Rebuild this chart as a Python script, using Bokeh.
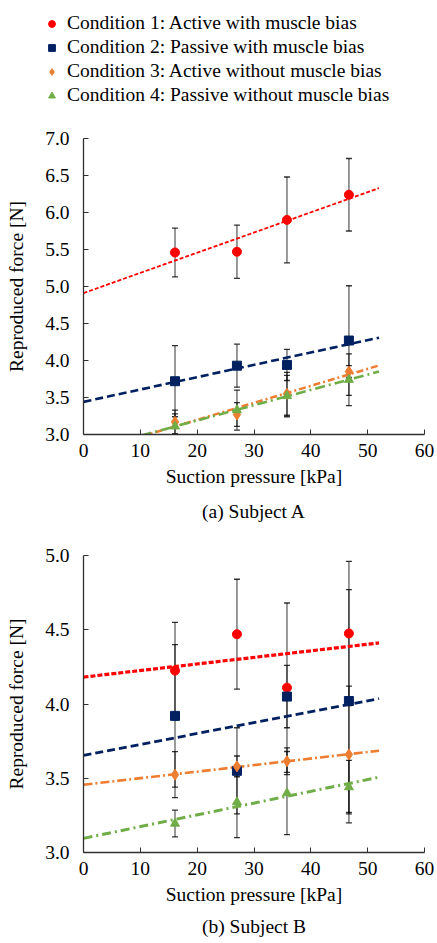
from bokeh.plotting import figure
from bokeh.models import (ColumnDataSource, Whisker, TeeHead, Legend, LegendItem,
                          SingleIntervalTicker, NumeralTickFormatter, Range1d, Title)
from bokeh.layouts import column
from bokeh.embed import file_html
from bokeh.resources import INLINE
import numpy as np

# ---------------- data ----------------
pressure = [16.1, 27.0, 35.8, 46.7]
conditions = ["Condition 1: Active with muscle bias",
              "Condition 2: Passive with muscle bias",
              "Condition 3: Active without muscle bias",
              "Condition 4: Passive without muscle bias"]

# Subject A: means and standard deviations
a_c1 = [5.46, 5.47, 5.90, 6.24]
a_c1_sd = [0.33, 0.36, 0.58, 0.49]
a_c2 = [3.72, 3.93, 3.94, 4.27]
a_c2_sd = [0.48, 0.29, 0.21, 0.74]
a_c3 = [3.17, 3.27, 3.55, 3.85]
a_c3_sd = [0.16, 0.16, 0.29, 0.08]
a_c4 = [3.11, 3.33, 3.52, 3.74]
a_c4_sd = [0.17, 0.27, 0.28, 0.35]

# Subject B
b_c1 = [4.225, 4.47, 4.11, 4.475]
b_c1_sd = [0.325, 0.37, 0.57, 0.485]
b_c2 = [3.92, 3.55, 4.05, 4.02]
b_c2_sd = [0.48, 0.29, 0.21, 0.75]
b_c3 = [3.524, 3.58, 3.615, 3.66]
b_c3_sd = [0.155, 0.07, 0.09, 0.46]
b_c4 = [3.195, 3.34, 3.40, 3.44]
b_c4_sd = [0.09, 0.24, 0.28, 0.18]

fit_x = [0, 52]
x_ticks_interval = 10
y_ticks_interval = 0.5

# ---------------- style ----------------
FONT = "Liberation Serif"
FS = "19.5px"
colors = ["#FF0000", "#002060", "#ED7D31", "#70AD47"]
markers = ["circle", "square", "diamond", "triangle"]
msizes = [9, 9, 11, 9]

W = 437
LEFT = 83
RIGHT = 13


def make_plot(means, sds, yr, dashes, widths, caption, height, top, bottom, cap_standoff):
    p = figure(width=W, height=height, output_backend="svg", toolbar_location=None,
               x_range=Range1d(0, 60), y_range=Range1d(*yr),
               min_border_left=LEFT, min_border_right=RIGHT,
               min_border_top=top, min_border_bottom=bottom)
    p.outline_line_color = None
    p.grid.visible = False
    p.background_fill_color = "white"

    # error bars
    for m, s in zip(means, sds):
        src = ColumnDataSource(dict(x=pressure, lo=[a - b for a, b in zip(m, s)],
                                    hi=[a + b for a, b in zip(m, s)]))
        w = Whisker(base="x", lower="lo", upper="hi", source=src,
                    line_color="black", line_alpha=0.5, line_width=1.6,
                    upper_head=TeeHead(size=6, line_color="black", line_alpha=0.8, line_width=1.3),
                    lower_head=TeeHead(size=6, line_color="black", line_alpha=0.8, line_width=1.3))
        w.level = "underlay"
        p.add_layout(w)

    # trend lines (least-squares fits of the data)
    for i, m in enumerate(means):
        k, c = np.polyfit(pressure, m, 1)
        fy = [k * x + c for x in fit_x]
        p.line(fit_x, fy, line_color=colors[i], line_width=widths[i], line_dash=dashes[i])

    # points
    for i, m in enumerate(means):
        p.scatter(pressure, m, marker=markers[i], size=msizes[i],
                  fill_color=colors[i], line_color=colors[i])

    for ax in (p.xaxis[0], p.yaxis[0]):
        ax.axis_line_color = "#303030"
        ax.axis_line_width = 1.3
        ax.major_tick_line_color = "#303030"
        ax.major_tick_in = 5
        ax.major_tick_out = 0
        ax.minor_tick_line_color = None
        ax.major_label_text_font = FONT
        ax.major_label_text_font_size = FS
        ax.major_label_text_color = "black"
        ax.axis_label_text_font = FONT
        ax.axis_label_text_font_size = FS
        ax.axis_label_text_font_style = "normal"
        ax.axis_label_text_color = "black"

    p.xaxis.ticker = SingleIntervalTicker(interval=x_ticks_interval)
    p.yaxis.ticker = SingleIntervalTicker(interval=y_ticks_interval)
    p.yaxis.formatter = NumeralTickFormatter(format="0.0")
    p.xaxis.axis_label = "Suction pressure [kPa]"
    p.yaxis.axis_label = "Reproduced force [N]"
    p.xaxis.major_label_standoff = 5
    p.xaxis.axis_label_standoff = 6
    p.yaxis.major_label_standoff = 10
    p.yaxis.axis_label_standoff = 15

    t = Title(text=caption, align="center", text_font=FONT, text_font_size=FS,
              text_font_style="normal", text_color="black", standoff=cap_standoff)
    p.add_layout(t, "below")
    return p


pA = make_plot([a_c1, a_c2, a_c3, a_c4], [a_c1_sd, a_c2_sd, a_c3_sd, a_c4_sd],
               (3.0, 7.0), ["4 2", "8 4", "7 3 2 3", "10 4 2 4"], [1.8, 2.6, 2.5, 2.6],
               "(a) Subject A", height=412, top=20, bottom=94, cap_standoff=18)
pB = make_plot([b_c1, b_c2, b_c3, b_c4], [b_c1_sd, b_c2_sd, b_c3_sd, b_c4_sd],
               (3.0, 5.0), ["5 2", "8 4", "9 3 2 3", "9 4 2 4"], [3.2, 2.8, 2.6, 3.0],
               "(b) Subject B", height=413, top=25, bottom=90, cap_standoff=13)

# ---------------- legend figure (own frame, not aligned with the plots) ----------------
lf = figure(width=W, height=118, output_backend="svg", toolbar_location=None,
            x_range=Range1d(0, 1), y_range=Range1d(0, 1),
            min_border_left=43, min_border_top=12, min_border_right=0, min_border_bottom=0,
            x_axis_location=None, y_axis_location=None)
lf.outline_line_color = None
lf.grid.visible = False
series_a = [a_c1, a_c2, a_c3, a_c4]
items = []
for i in range(4):
    # legend swatches only: the points lie outside this figure's view
    r = lf.scatter(x=pressure, y=series_a[i], marker=markers[i], size=msizes[i],
                   fill_color=colors[i], line_color=colors[i])
    items.append(LegendItem(label=conditions[i], renderers=[r]))
leg = Legend(items=items, location="top_left", orientation="vertical",
             glyph_width=17, glyph_height=17, label_height=20, spacing=2,
             padding=0, margin=0, label_standoff=7,
             border_line_color=None, background_fill_alpha=0,
             label_text_font=FONT, label_text_font_size=FS, label_text_color="black")
lf.add_layout(leg)

layout = column(lf, column(pA, pB, spacing=0), spacing=0)
open("out.html", "w").write(file_html(layout, INLINE))
